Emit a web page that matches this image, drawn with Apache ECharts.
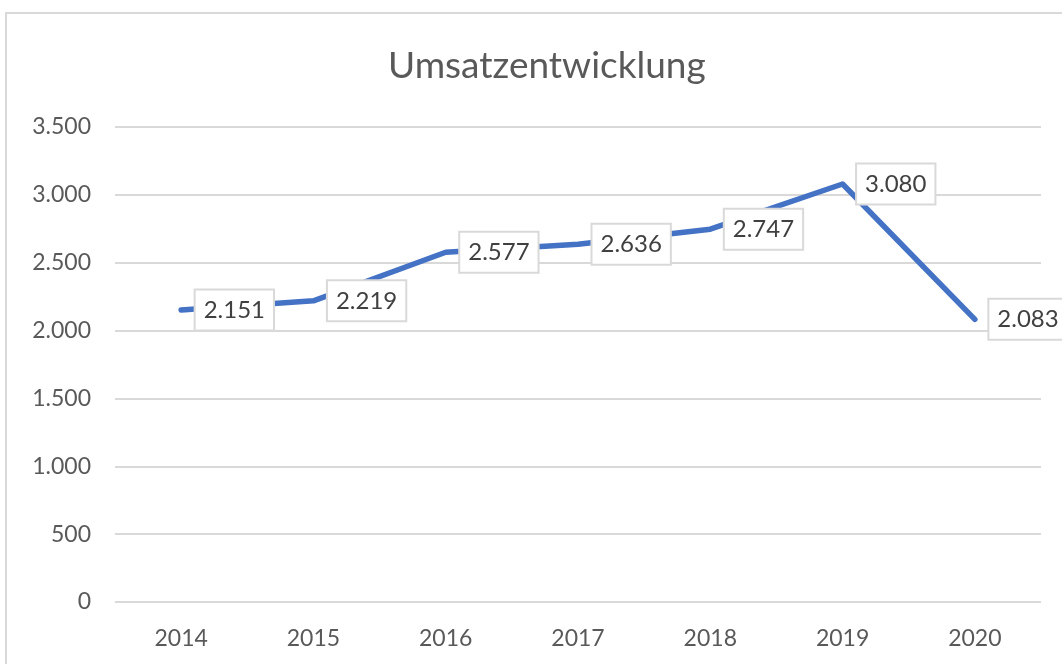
<!DOCTYPE html>
<html>
<head>
<meta charset="utf-8">
<script src="https://cdn.jsdelivr.net/npm/echarts@6/dist/echarts.min.js"></script>
<style>
  html, body { margin: 0; padding: 0; background: #fff; }
  #chart { width: 1062px; height: 664px; }
  #frame { position: absolute; left: 5px; top: 12px; width: 1100px; height: 700px;
           border-top: 2px solid #d9d9d9; border-left: 2px solid #d9d9d9; pointer-events: none; }
</style>
</head>
<body>
<div id="chart"></div>
<div id="frame"></div>
<script>
var chart = echarts.init(document.getElementById('chart'));

// Daten
var jahre = ['2014', '2015', '2016', '2017', '2018', '2019', '2020'];
var umsatz = [2151, 2219, 2577, 2636, 2747, 3080, 2083];

// deutsches Zahlenformat: 3.500
function fmt(v) {
    return String(v).replace(/\B(?=(\d{3})+(?!\d))/g, '.');
}

var schrift = 'Lato, "Liberation Sans", sans-serif';

option = {
    title: {
        text: 'Umsatzentwicklung',
        left: 383,
        top: 43,
        textStyle: {
            fontFamily: schrift,
            fontSize: 37,
            fontWeight: 'normal',
            color: '#595959'
        }
    },
    grid: {
        left: 115,
        right: 21,
        top: 127,
        bottom: 62
    },
    xAxis: {
        type: 'category',
        data: jahre,
        axisLine: { show: false },
        axisTick: { show: false },
        axisLabel: {
            fontFamily: schrift,
            fontSize: 23,
            color: '#595959',
            margin: 25
        }
    },
    yAxis: {
        type: 'value',
        min: 0,
        max: 3500,
        interval: 500,
        axisLine: { show: false },
        axisTick: { show: false },
        axisLabel: {
            fontFamily: schrift,
            fontSize: 23,
            color: '#595959',
            margin: 24,
            formatter: fmt
        },
        splitLine: {
            lineStyle: { color: '#d9d9d9', width: 2 }
        }
    },
    series: [
        {
            type: 'line',
            data: umsatz,
            symbol: 'circle',
            symbolSize: 1,
            showSymbol: true,
            itemStyle: { color: '#4472c4' },
            lineStyle: {
                color: '#4472c4',
                width: 5.5,
                cap: 'round',
                join: 'round'
            },
            label: {
                show: true,
                position: 'right',
                distance: 14,
                formatter: function (p) { return fmt(p.value); },
                fontFamily: schrift,
                fontSize: 24,
                lineHeight: 28,
                color: '#404040',
                backgroundColor: '#fff',
                borderColor: '#d9d9d9',
                borderWidth: 2,
                padding: [6, 8, 5, 8]
            },
            labelLayout: { hideOverlap: false },
            animation: false
        }
    ]
};
chart.setOption(option);
</script>
</body>
</html>
